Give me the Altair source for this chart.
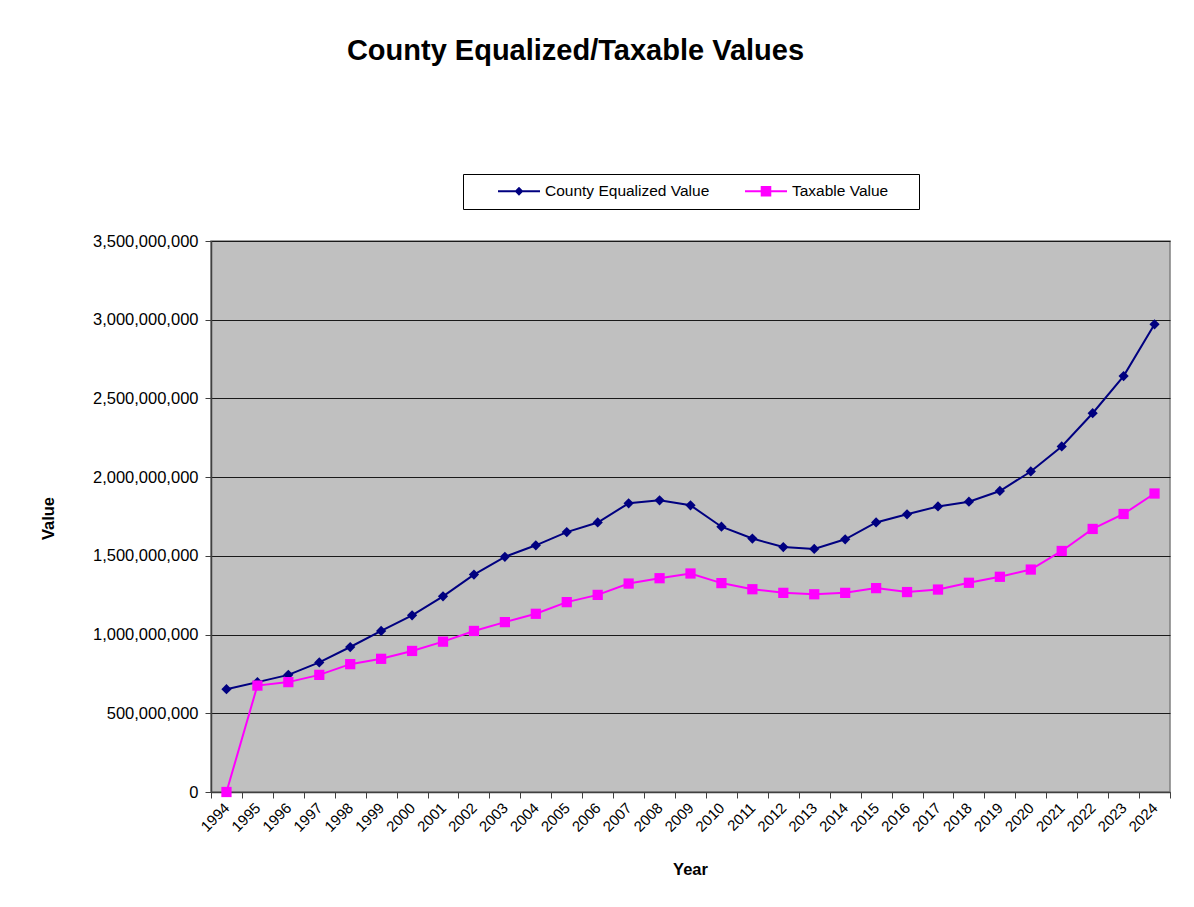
import altair as alt
import pandas as pd

years = [str(y) for y in range(1994, 2025)]
county_equalized = [653e6, 698e6, 744e6, 823e6, 921e6, 1023e6, 1122e6, 1243e6, 1381e6, 1494e6,
                    1567e6, 1651e6, 1712e6, 1834e6, 1853e6, 1821e6, 1685e6, 1610e6, 1556e6, 1544e6,
                    1605e6, 1712e6, 1764e6, 1814e6, 1844e6, 1912e6, 2036e6, 2195e6, 2406e6, 2642e6,
                    2971e6]
taxable = [0, 676e6, 698e6, 744e6, 812e6, 846e6, 896e6, 955e6, 1023e6, 1079e6,
           1132e6, 1206e6, 1252e6, 1324e6, 1358e6, 1388e6, 1327e6, 1288e6, 1265e6, 1256e6,
           1265e6, 1295e6, 1270e6, 1286e6, 1329e6, 1367e6, 1413e6, 1531e6, 1671e6, 1766e6,
           1896e6]
series_names = ["County Equalized Value", "Taxable Value"]
series_colors = ["#000080", "#FF00FF"]
series_shapes = ["diamond", "square"]
# legend symbols: a short line with the series marker on it
# (a trailing move-to widens the legend frame like the boxed Excel legend)
legend_shapes = [
    "M-2.625,-0.125H2.625V0.125H-2.625Z M0,-0.55L0.55,0L0,0.55L-0.55,0Z",
    "M-2.625,-0.125H2.625V0.125H-2.625Z M-0.66,-0.66H0.66V0.66H-0.66Z M18,0",
]
y_ticks = [0, 500e6, 1000e6, 1500e6, 2000e6, 2500e6, 3000e6, 3500e6]

df = pd.DataFrame({
    "Year": years * 2,
    "Value": county_equalized + taxable,
    "Series": [series_names[0]] * len(years) + [series_names[1]] * len(years),
})

FONT = "Liberation Sans"

legend_def = dict(
    title=None,
    orient="none",
    direction="horizontal",
    legendX=252,
    legendY=-67,
    labelFont=FONT,
    labelFontSize=15.5,
    labelColor="#000000",
    labelLimit=400,
    labelOffset=18,
    symbolOffset=39,
    columnPadding=9,
    padding=9,
    strokeColor="#000000",
    fillColor="#FFFFFF",
    symbolSize=256,
    symbolStrokeWidth=0,
    symbolOpacity=1,
)

x_enc = alt.X(
    "Year:O",
    sort=years,
    scale=alt.Scale(paddingInner=0, paddingOuter=0),
    axis=alt.Axis(
        title="Year",
        titleFont=FONT,
        titleFontSize=16.5,
        titleFontWeight="bold",
        titleX=479,
        titleY=82,
        titleBaseline="alphabetic",
        labelAngle=-45,
        labelAlign="right",
        labelBaseline="middle",
        labelFont=FONT,
        labelFontSize=15,
        labelColor="#000000",
        labelPadding=7,
        tickBand="extent",
        tickSize=6,
        tickColor="#404040",
        domainColor="#404040",
        domainWidth=1.5,
        grid=False,
        labelOverlap=False,
    ),
)

y_enc = alt.Y(
    "Value:Q",
    scale=alt.Scale(domain=[0, 3.5e9], nice=False, zero=True),
    axis=alt.Axis(
        title="Value",
        titleFont=FONT,
        titleFontSize=16.5,
        titleFontWeight="bold",
        titleX=-158,
        titleY=277,
        titleAngle=-90,
        titleBaseline="alphabetic",
        titleAlign="center",
        values=y_ticks,
        format=",d",
        labelFont=FONT,
        labelFontSize=16.5,
        labelColor="#000000",
        labelPadding=7,
        tickSize=6,
        tickColor="#404040",
        domainColor="#404040",
        domainWidth=1.5,
        grid=True,
        gridColor="#1a1a1a",
        gridWidth=1,
    ),
)

color_scale = alt.Scale(domain=series_names, range=series_colors)

base = alt.Chart(df).encode(x=x_enc, y=y_enc)

lines = base.mark_line(strokeWidth=2).encode(
    color=alt.Color("Series:N", scale=color_scale, legend=None)
)
points = base.mark_point(filled=True, opacity=1, size=105).encode(
    color=alt.Color("Series:N", scale=color_scale, legend=None),
    shape=alt.Shape("Series:N", scale=alt.Scale(domain=series_names, range=series_shapes), legend=None),
)
legend_layer = base.mark_point(filled=True, opacity=1).encode(
    color=alt.Color("Series:N", scale=color_scale, legend=alt.Legend(**legend_def)),
    shape=alt.Shape("Series:N", scale=alt.Scale(domain=series_names, range=legend_shapes),
                    legend=alt.Legend(**legend_def)),
).transform_filter("datum.Value < 0")

chart = alt.layer(lines, points, legend_layer).resolve_scale(
    color="independent", shape="independent"
).properties(
    width=959,
    height=551,
    autosize=alt.AutoSizeParams(type="none"),
    padding={"left": 203, "top": 233, "right": 16, "bottom": 107},
    background="#FFFFFF",
    title=alt.TitleParams(
        text="County Equalized/Taxable Values",
        font=FONT,
        fontSize=29,
        fontWeight="bold",
        color="#000000",
        anchor="middle",
        frame="group",
        baseline="alphabetic",
        offset=85,
        dx=-115,
    ),
).configure_view(
    fill="#C0C0C0",
    stroke="#808080",
    strokeWidth=1.5,
)

chart.save("out.html", embed_options={"renderer": "svg", "actions": False})
